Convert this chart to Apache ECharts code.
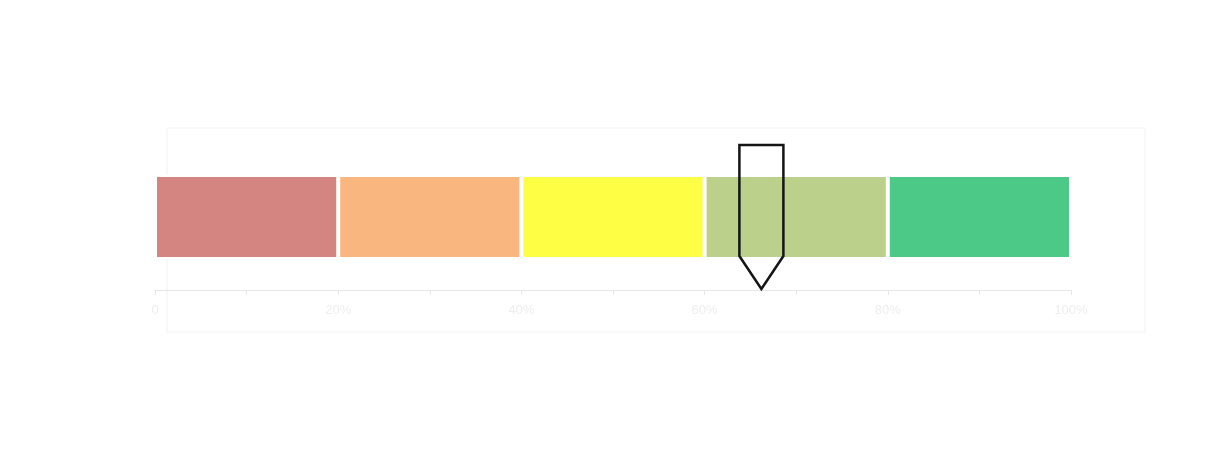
<!DOCTYPE html>
<html>
<head>
<meta charset="utf-8">
<script src="https://cdn.jsdelivr.net/npm/echarts@6/dist/echarts.min.js"></script>
<style>
  html, body { margin: 0; padding: 0; background: #fff; }
  #main { width: 1232px; height: 473px; }
</style>
</head>
<body>
<div id="main"></div>
<script>
// 数据
var bands = ['Band 1', 'Band 2', 'Band 3', 'Band 4', 'Band 5'];
var bandWidths = [20, 20, 20, 20, 20];
var bandColors = ['#d48481', '#f9b77f', '#fefe45', '#bad08b', '#4cc986'];
var pointerValue = [66.2];
var tickValues = [0, 20, 40, 60, 80, 100];

var chart = echarts.init(document.getElementById('main'));

var series = bands.map(function (name, i) {
  return {
    name: name,
    type: 'bar',
    stack: 'scale',
    barWidth: 84,
    silent: true,
    itemStyle: { color: bandColors[i], borderColor: '#fff', borderWidth: 2 },
    data: [bandWidths[i]]
  };
});

// 指针
series.push({
  name: 'pointer',
  type: 'custom',
  clip: false,
  z: 10,
  renderItem: function (params, api) {
    var c = api.coord([api.value(0), 0]);
    var hw = 22, top = c[1] - 72, shoulder = c[1] + 39, tip = c[1] + 72;
    return {
      type: 'polygon',
      shape: {
        points: [
          [c[0] - hw, top], [c[0] + hw, top], [c[0] + hw, shoulder],
          [c[0], tip], [c[0] - hw, shoulder]
        ]
      },
      style: { fill: 'none', stroke: '#151515', lineWidth: 2.5 }
    };
  },
  data: [[pointerValue[0], 0]]
});

var option = {
  animation: false,
  graphic: [{
    type: 'rect',
    shape: { x: 167, y: 128, width: 978, height: 204 },
    style: { fill: 'none', stroke: '#f2f2f2', lineWidth: 1 },
    silent: true
  }],
  grid: { left: 155, right: 161, top: 144, bottom: 183 },
  xAxis: {
    type: 'value',
    min: 0,
    max: 100,
    interval: 10,
    axisLine: { show: true, lineStyle: { color: '#e6e6e6' } },
    axisTick: { show: true, length: 5, lineStyle: { color: '#e6e6e6' } },
    splitLine: { show: false },
    axisLabel: {
      color: '#eeeeee',
      fontSize: 13,
      margin: 14,
      formatter: function (v) {
        if (tickValues.indexOf(v) < 0) return '';
        return v === 0 ? '0' : v + '%';
      }
    }
  },
  yAxis: {
    type: 'category',
    data: ['scale'],
    show: false
  },
  series: series
};

chart.setOption(option);
</script>
</body>
</html>
